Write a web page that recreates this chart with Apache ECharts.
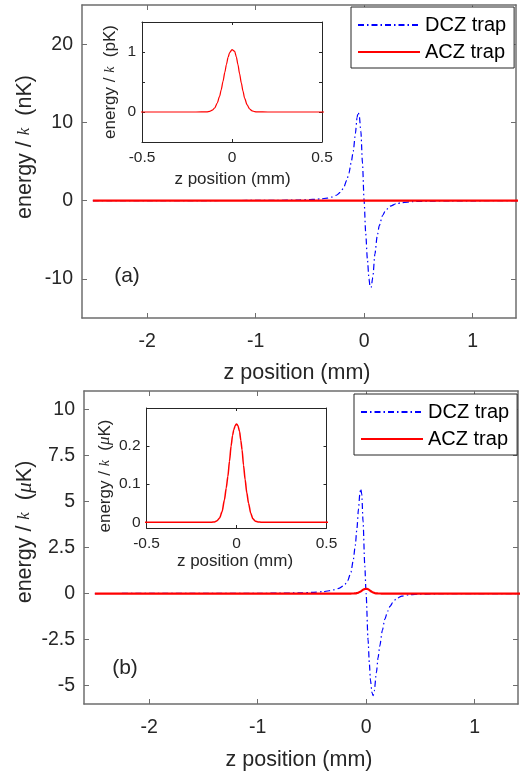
<!DOCTYPE html>
<html><head><meta charset="utf-8">
<script src="https://cdn.jsdelivr.net/npm/echarts@6/dist/echarts.min.js"></script>
<style>html,body{margin:0;padding:0;background:#fff;}#c{width:528px;height:772px;}</style>
</head><body><div id="c"></div>
<script>
// ---------- data ----------
// Panel (a): DCZ trap, energy/k in nK vs z position (mm)
const dczA_x = [-2.5,-2.0,-1.5,-1.0,-0.8,-0.6,-0.5,-0.45,-0.4,-0.34,-0.3,-0.25,-0.22,-0.19,-0.16,-0.14,-0.12,-0.1,-0.08,-0.065,-0.055,-0.045,-0.03,-0.015,0,0.015,0.03,0.045,0.055,0.065,0.08,0.1,0.12,0.14,0.17,0.2,0.24,0.3,0.35,0.45,0.6,0.8,1.0,1.5];
const dczA_y = [0,0.01,0.01,0.02,0.04,0.08,0.13,0.17,0.22,0.32,0.45,0.72,1.05,1.6,2.6,3.5,4.8,6.3,8.6,10.6,11.3,10.9,8.9,4.8,0,-4.2,-7.4,-10.0,-11.0,-11.1,-9.8,-6.8,-4.6,-3.2,-1.9,-1.2,-0.7,-0.38,-0.25,-0.12,-0.06,-0.03,-0.02,-0.01];
// Panel (a): ACZ trap, energy/k in pK (inset); main plot shows it in nK
const aczA_x = [-2.5,-0.5,-0.2,-0.14,-0.124,-0.11,-0.096,-0.082,-0.069,-0.06,-0.05,-0.04,-0.031,-0.022,-0.013,0,0.015,0.024,0.033,0.042,0.052,0.061,0.07,0.084,0.098,0.112,0.126,0.14,0.2,0.5,1.5];
const aczA_pK = [0,0,0,0.002,0.01,0.03,0.067,0.15,0.26,0.37,0.51,0.66,0.79,0.91,0.99,1.04,1.01,0.92,0.79,0.64,0.48,0.35,0.23,0.12,0.05,0.018,0.005,0.001,0,0,0];
// Panel (b): DCZ trap, energy/k in uK
const dczB_x = [-2.5,-2.0,-1.5,-1.0,-0.8,-0.6,-0.5,-0.4,-0.34,-0.3,-0.25,-0.2,-0.17,-0.14,-0.12,-0.1,-0.085,-0.07,-0.058,-0.05,-0.04,-0.028,-0.012,0,0.018,0.03,0.04,0.055,0.065,0.075,0.095,0.11,0.126,0.15,0.172,0.2,0.22,0.25,0.28,0.33,0.4,0.5,0.7,1.0,1.5];
const dczB_y = [0,0.005,0.008,0.012,0.02,0.04,0.06,0.1,0.15,0.2,0.28,0.45,0.7,1.15,1.75,2.6,3.5,4.6,5.4,5.7,5.4,3.9,1.5,0,-2.5,-3.8,-4.7,-5.4,-5.55,-5.3,-4.3,-3.5,-2.85,-2.0,-1.4,-0.95,-0.7,-0.45,-0.27,-0.14,-0.06,-0.03,-0.01,-0.005,0];
// Panel (b): ACZ trap, energy/k in uK
const aczB_x = [-2.5,-0.5,-0.2,-0.14,-0.122,-0.108,-0.094,-0.08,-0.067,-0.057,-0.048,-0.039,-0.03,-0.022,-0.015,-0.007,0,0.008,0.017,0.024,0.031,0.039,0.048,0.057,0.067,0.079,0.091,0.105,0.119,0.14,0.2,0.5,1.5];
const aczB_uK = [0,0,0,0,0.001,0.004,0.011,0.028,0.059,0.09,0.12,0.16,0.2,0.228,0.243,0.254,0.258,0.254,0.238,0.215,0.19,0.15,0.112,0.078,0.05,0.024,0.009,0.003,0.001,0,0,0,0];

// tick values / labels
const mainXTicks = [-2,-1,0,1];
const mainAYTicks = [-10,0,10,20];
const mainBYTicks = [-5,-2.5,0,2.5,5,7.5,10];
const insetXTicks = [-0.5,0,0.5];
const insetAYTicks = [0,0.5,1];
const insetAYLabels = [0,1];
const insetBYTicks = [0,0.1,0.2];
const legendNames = ['DCZ trap','ACZ trap'];

// ---------- chart ----------
const FF = '"Liberation Sans", Arial, Helvetica, sans-serif';
const pairs = (xs, ys, k) => xs.map((x, i) => [x, ys[i] * (k || 1)]);

function axisPair(kind, gi, min, max, ticks, labels, main) {
  const lineCol = main ? '#6e6e6e' : '#262626';
  const lw = main ? 1.5 : 1;
  const common = {
    type: 'value', gridIndex: gi, min: min, max: max,
    splitLine: { show: false },
    axisLine: { show: true, onZero: false, lineStyle: { color: lineCol, width: lw } },
    axisTick: { show: true, inside: true, length: main ? 5 : 3, customValues: ticks, lineStyle: { color: lineCol, width: 1 } }
  };
  const a = Object.assign({}, common, {
    position: kind === 'x' ? 'bottom' : 'left',
    axisLabel: { show: true, customValues: labels, color: '#262626', fontFamily: FF,
      fontSize: main ? 19.5 : 15.5,
      margin: kind === 'x' ? (main ? 14 : 8) : (main ? 9 : 6) }
  });
  const b = Object.assign({}, common, {
    position: kind === 'x' ? 'top' : 'right',
    axisLabel: { show: false }
  });
  return [a, b];
}

const xAxes = [].concat(
  axisPair('x', 0, -2.6, 1.4, mainXTicks, mainXTicks, true),
  axisPair('x', 1, -0.5, 0.5, insetXTicks, insetXTicks, false),
  axisPair('x', 2, -2.6, 1.4, mainXTicks, mainXTicks, true),
  axisPair('x', 3, -0.5, 0.5, insetXTicks, insetXTicks, false)
);
const yAxes = [].concat(
  axisPair('y', 0, -15, 25, mainAYTicks, mainAYTicks, true),
  axisPair('y', 1, -0.5, 1.5, insetAYTicks, insetAYLabels, false),
  axisPair('y', 2, -6, 11, mainBYTicks, mainBYTicks, true),
  axisPair('y', 3, -0.015, 0.3, insetBYTicks, insetBYTicks, false)
);

const dashDot = [6, 3, 1.5, 3];
function line(name, xi, data, color, width, type, z) {
  return { type: 'line', name: name, xAxisIndex: xi, yAxisIndex: xi, data: data,
    symbol: 'none', showSymbol: false, smooth: 0.25, smoothMonotone: 'x', clip: true,
    color: color, z: z,
    lineStyle: { color: color, width: width, type: type } };
}

function legend(left, top) {
  return { show: true, orient: 'vertical', left: left, top: top, data: legendNames,
    itemWidth: 62, itemHeight: 14, itemGap: 7, padding: [8, 8, 6, 6],
    backgroundColor: '#ffffff', borderColor: '#262626', borderWidth: 1, borderRadius: 0,
    selectedMode: false,
    itemStyle: { opacity: 0, borderWidth: 0 },
    textStyle: { fontFamily: FF, fontSize: 20, color: '#000', lineHeight: 20 } };
}

function txt(x, y, text, size, rot, rich) {
  const st = { text: text, fontFamily: FF, fontSize: size, fill: '#262626',
    align: 'center', verticalAlign: 'middle', textAlign: 'center', textVerticalAlign: 'middle' };
  if (rich) st.rich = rich;
  return { type: 'text', x: x, y: y, rotation: rot || 0, z: 100, style: st };
}
function ylabRich(size) {
  return {
    n: { fontFamily: FF, fontSize: size, fill: '#262626' },
    k: { fontFamily: '"Liberation Serif", "DejaVu Serif", serif', fontStyle: 'italic', fontSize: Math.round(size * 0.8), fill: '#262626' },
    m: { fontFamily: '"Liberation Serif", "DejaVu Serif", serif', fontStyle: 'italic', fontSize: size, fill: '#262626' }
  };
}
const R = Math.PI / 2;

const option = {
  animation: false,
  backgroundColor: '#ffffff',
  grid: [
    { left: 82, top: 5, width: 434, height: 313, outerBoundsMode: 'none', containLabel: false },
    { left: 142, top: 22, width: 180, height: 120, outerBoundsMode: 'none', containLabel: false, show: true, backgroundColor: '#fff', borderWidth: 0 },
    { left: 84, top: 391, width: 434, height: 313, outerBoundsMode: 'none', containLabel: false },
    { left: 146.5, top: 408, width: 180, height: 120, outerBoundsMode: 'none', containLabel: false, show: true, backgroundColor: '#fff', borderWidth: 0 }
  ],
  xAxis: xAxes,
  yAxis: yAxes,
  legend: [legend(351, 7), legend(354, 394)],
  series: [
    line('DCZ trap', 0, pairs(dczA_x, dczA_y), '#0000ff', 1.2, dashDot, 2),
    line('ACZ trap', 0, pairs(aczA_x, aczA_pK, 0.001), '#ff0000', 2.2, 'solid', 3),
    line('ACZ inset (a)', 2, pairs(aczA_x, aczA_pK), '#ff0000', 1.2, 'solid', 3),
    line('DCZ trap', 4, pairs(dczB_x, dczB_y), '#0000ff', 1.2, dashDot, 2),
    line('ACZ trap', 4, pairs(aczB_x, aczB_uK), '#ff0000', 2.2, 'solid', 3),
    line('ACZ inset (b)', 6, pairs(aczB_x, aczB_uK), '#ff0000', 1.5, 'solid', 3)
  ],
  graphic: [
    txt(297, 373, 'z position (mm)', 21.5),
    txt(299, 760, 'z position (mm)', 21.5),
    txt(25, 147, '{n|energy / }{k|k}{n|  (nK)}', 21.5, R, ylabRich(21.5)),
    txt(25, 532, '{n|energy / }{k|k}{n|  (}{m|\u03bc}{n|K)}', 21.5, R, ylabRich(21.5)),
    txt(232.5, 179, 'z position (mm)', 17),
    txt(235, 561, 'z position (mm)', 17),
    txt(110, 82, '{n|energy / }{k|k}{n|  (pK)}', 17, R, ylabRich(17)),
    txt(105, 476, '{n|energy / }{k|k}{n|  (}{m|\u03bc}{n|K)}', 17, R, ylabRich(17)),
    txt(127, 276, '(a)', 21),
    txt(125, 668, '(b)', 21)
  ]
};

const chart = echarts.init(document.getElementById('c'), null, { renderer: 'canvas' });
chart.setOption(option);
</script>
</body></html>
